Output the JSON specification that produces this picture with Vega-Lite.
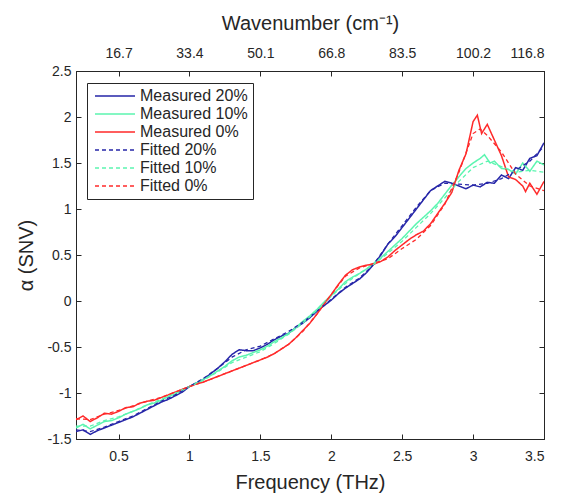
{
"$schema":"https://vega.github.io/schema/vega-lite/v6.json",
"width":468,"height":368,
"autosize":{"type":"none"},
"padding":{"left":76,"top":71,"right":21,"bottom":60},
"background":"white",
"config":{"font":"Liberation Sans","view":{"stroke":"#262626","strokeWidth":1},
 "axis":{"grid":false,"domainColor":"#262626","tickColor":"#262626","labelColor":"#262626","titleColor":"#262626","labelFontSize":14,"titleFontSize":20,"titleFontWeight":"normal","tickSize":-5,"tickWidth":1}},
"datasets":{
"m":[
{"s":"Measured 20%","x":0.20,"y":-1.42},{"s":"Measured 20%","x":0.25,"y":-1.40},{"s":"Measured 20%","x":0.30,"y":-1.45},{"s":"Measured 20%","x":0.35,"y":-1.41},{"s":"Measured 20%","x":0.40,"y":-1.38},{"s":"Measured 20%","x":0.45,"y":-1.35},{"s":"Measured 20%","x":0.50,"y":-1.32},{"s":"Measured 20%","x":0.55,"y":-1.29},{"s":"Measured 20%","x":0.60,"y":-1.26},{"s":"Measured 20%","x":0.65,"y":-1.22},{"s":"Measured 20%","x":0.70,"y":-1.18},{"s":"Measured 20%","x":0.75,"y":-1.14},{"s":"Measured 20%","x":0.80,"y":-1.10},{"s":"Measured 20%","x":0.85,"y":-1.07},{"s":"Measured 20%","x":0.90,"y":-1.03},{"s":"Measured 20%","x":0.95,"y":-0.99},{"s":"Measured 20%","x":1.00,"y":-0.93},{"s":"Measured 20%","x":1.05,"y":-0.89},{"s":"Measured 20%","x":1.10,"y":-0.85},{"s":"Measured 20%","x":1.15,"y":-0.79},{"s":"Measured 20%","x":1.20,"y":-0.73},{"s":"Measured 20%","x":1.25,"y":-0.66},{"s":"Measured 20%","x":1.30,"y":-0.58},{"s":"Measured 20%","x":1.35,"y":-0.53},{"s":"Measured 20%","x":1.40,"y":-0.54},{"s":"Measured 20%","x":1.45,"y":-0.54},{"s":"Measured 20%","x":1.50,"y":-0.51},{"s":"Measured 20%","x":1.55,"y":-0.47},{"s":"Measured 20%","x":1.60,"y":-0.42},{"s":"Measured 20%","x":1.65,"y":-0.38},{"s":"Measured 20%","x":1.70,"y":-0.35},{"s":"Measured 20%","x":1.75,"y":-0.29},{"s":"Measured 20%","x":1.80,"y":-0.24},{"s":"Measured 20%","x":1.85,"y":-0.18},{"s":"Measured 20%","x":1.90,"y":-0.11},{"s":"Measured 20%","x":1.95,"y":-0.05},{"s":"Measured 20%","x":2.00,"y":0.01},{"s":"Measured 20%","x":2.05,"y":0.08},{"s":"Measured 20%","x":2.10,"y":0.14},{"s":"Measured 20%","x":2.15,"y":0.19},{"s":"Measured 20%","x":2.20,"y":0.24},{"s":"Measured 20%","x":2.25,"y":0.31},{"s":"Measured 20%","x":2.30,"y":0.40},{"s":"Measured 20%","x":2.35,"y":0.50},{"s":"Measured 20%","x":2.40,"y":0.62},{"s":"Measured 20%","x":2.45,"y":0.70},{"s":"Measured 20%","x":2.50,"y":0.80},{"s":"Measured 20%","x":2.55,"y":0.90},{"s":"Measured 20%","x":2.60,"y":1.00},{"s":"Measured 20%","x":2.65,"y":1.10},{"s":"Measured 20%","x":2.70,"y":1.20},{"s":"Measured 20%","x":2.75,"y":1.25},{"s":"Measured 20%","x":2.80,"y":1.30},{"s":"Measured 20%","x":2.85,"y":1.28},{"s":"Measured 20%","x":2.90,"y":1.25},{"s":"Measured 20%","x":2.95,"y":1.22},{"s":"Measured 20%","x":3.00,"y":1.26},{"s":"Measured 20%","x":3.05,"y":1.24},{"s":"Measured 20%","x":3.10,"y":1.29},{"s":"Measured 20%","x":3.15,"y":1.28},{"s":"Measured 20%","x":3.20,"y":1.37},{"s":"Measured 20%","x":3.25,"y":1.33},{"s":"Measured 20%","x":3.30,"y":1.45},{"s":"Measured 20%","x":3.35,"y":1.42},{"s":"Measured 20%","x":3.40,"y":1.55},{"s":"Measured 20%","x":3.45,"y":1.58},{"s":"Measured 20%","x":3.50,"y":1.72},
{"s":"Measured 10%","x":0.20,"y":-1.38},{"s":"Measured 10%","x":0.25,"y":-1.34},{"s":"Measured 10%","x":0.30,"y":-1.39},{"s":"Measured 10%","x":0.35,"y":-1.35},{"s":"Measured 10%","x":0.40,"y":-1.31},{"s":"Measured 10%","x":0.45,"y":-1.30},{"s":"Measured 10%","x":0.50,"y":-1.27},{"s":"Measured 10%","x":0.55,"y":-1.23},{"s":"Measured 10%","x":0.60,"y":-1.20},{"s":"Measured 10%","x":0.65,"y":-1.17},{"s":"Measured 10%","x":0.70,"y":-1.13},{"s":"Measured 10%","x":0.75,"y":-1.11},{"s":"Measured 10%","x":0.80,"y":-1.08},{"s":"Measured 10%","x":0.85,"y":-1.04},{"s":"Measured 10%","x":0.90,"y":-1.01},{"s":"Measured 10%","x":0.95,"y":-0.97},{"s":"Measured 10%","x":1.00,"y":-0.93},{"s":"Measured 10%","x":1.05,"y":-0.89},{"s":"Measured 10%","x":1.10,"y":-0.85},{"s":"Measured 10%","x":1.15,"y":-0.81},{"s":"Measured 10%","x":1.20,"y":-0.76},{"s":"Measured 10%","x":1.25,"y":-0.71},{"s":"Measured 10%","x":1.30,"y":-0.65},{"s":"Measured 10%","x":1.35,"y":-0.61},{"s":"Measured 10%","x":1.40,"y":-0.59},{"s":"Measured 10%","x":1.45,"y":-0.56},{"s":"Measured 10%","x":1.50,"y":-0.53},{"s":"Measured 10%","x":1.55,"y":-0.49},{"s":"Measured 10%","x":1.60,"y":-0.44},{"s":"Measured 10%","x":1.65,"y":-0.40},{"s":"Measured 10%","x":1.70,"y":-0.35},{"s":"Measured 10%","x":1.75,"y":-0.29},{"s":"Measured 10%","x":1.80,"y":-0.22},{"s":"Measured 10%","x":1.85,"y":-0.16},{"s":"Measured 10%","x":1.90,"y":-0.09},{"s":"Measured 10%","x":1.95,"y":-0.01},{"s":"Measured 10%","x":2.00,"y":0.06},{"s":"Measured 10%","x":2.05,"y":0.13},{"s":"Measured 10%","x":2.10,"y":0.21},{"s":"Measured 10%","x":2.15,"y":0.26},{"s":"Measured 10%","x":2.20,"y":0.30},{"s":"Measured 10%","x":2.25,"y":0.35},{"s":"Measured 10%","x":2.30,"y":0.41},{"s":"Measured 10%","x":2.35,"y":0.47},{"s":"Measured 10%","x":2.40,"y":0.54},{"s":"Measured 10%","x":2.45,"y":0.61},{"s":"Measured 10%","x":2.50,"y":0.68},{"s":"Measured 10%","x":2.55,"y":0.76},{"s":"Measured 10%","x":2.60,"y":0.84},{"s":"Measured 10%","x":2.65,"y":0.91},{"s":"Measured 10%","x":2.70,"y":0.98},{"s":"Measured 10%","x":2.75,"y":1.06},{"s":"Measured 10%","x":2.80,"y":1.16},{"s":"Measured 10%","x":2.85,"y":1.26},{"s":"Measured 10%","x":2.90,"y":1.35},{"s":"Measured 10%","x":2.95,"y":1.44},{"s":"Measured 10%","x":3.00,"y":1.50},{"s":"Measured 10%","x":3.05,"y":1.55},{"s":"Measured 10%","x":3.08,"y":1.59},{"s":"Measured 10%","x":3.12,"y":1.50},{"s":"Measured 10%","x":3.15,"y":1.52},{"s":"Measured 10%","x":3.20,"y":1.44},{"s":"Measured 10%","x":3.25,"y":1.43},{"s":"Measured 10%","x":3.30,"y":1.38},{"s":"Measured 10%","x":3.35,"y":1.50},{"s":"Measured 10%","x":3.40,"y":1.41},{"s":"Measured 10%","x":3.45,"y":1.52},{"s":"Measured 10%","x":3.50,"y":1.48},
{"s":"Measured 0%","x":0.20,"y":-1.29},{"s":"Measured 0%","x":0.25,"y":-1.25},{"s":"Measured 0%","x":0.30,"y":-1.31},{"s":"Measured 0%","x":0.35,"y":-1.27},{"s":"Measured 0%","x":0.40,"y":-1.22},{"s":"Measured 0%","x":0.45,"y":-1.23},{"s":"Measured 0%","x":0.50,"y":-1.20},{"s":"Measured 0%","x":0.55,"y":-1.16},{"s":"Measured 0%","x":0.60,"y":-1.15},{"s":"Measured 0%","x":0.65,"y":-1.11},{"s":"Measured 0%","x":0.70,"y":-1.09},{"s":"Measured 0%","x":0.75,"y":-1.08},{"s":"Measured 0%","x":0.80,"y":-1.05},{"s":"Measured 0%","x":0.85,"y":-1.02},{"s":"Measured 0%","x":0.90,"y":-0.99},{"s":"Measured 0%","x":0.95,"y":-0.96},{"s":"Measured 0%","x":1.00,"y":-0.93},{"s":"Measured 0%","x":1.05,"y":-0.90},{"s":"Measured 0%","x":1.10,"y":-0.88},{"s":"Measured 0%","x":1.15,"y":-0.85},{"s":"Measured 0%","x":1.20,"y":-0.82},{"s":"Measured 0%","x":1.25,"y":-0.79},{"s":"Measured 0%","x":1.30,"y":-0.76},{"s":"Measured 0%","x":1.35,"y":-0.73},{"s":"Measured 0%","x":1.40,"y":-0.70},{"s":"Measured 0%","x":1.45,"y":-0.67},{"s":"Measured 0%","x":1.50,"y":-0.64},{"s":"Measured 0%","x":1.55,"y":-0.61},{"s":"Measured 0%","x":1.60,"y":-0.57},{"s":"Measured 0%","x":1.65,"y":-0.52},{"s":"Measured 0%","x":1.70,"y":-0.47},{"s":"Measured 0%","x":1.75,"y":-0.40},{"s":"Measured 0%","x":1.80,"y":-0.32},{"s":"Measured 0%","x":1.85,"y":-0.24},{"s":"Measured 0%","x":1.90,"y":-0.14},{"s":"Measured 0%","x":1.95,"y":-0.03},{"s":"Measured 0%","x":2.00,"y":0.07},{"s":"Measured 0%","x":2.05,"y":0.18},{"s":"Measured 0%","x":2.10,"y":0.28},{"s":"Measured 0%","x":2.15,"y":0.34},{"s":"Measured 0%","x":2.20,"y":0.37},{"s":"Measured 0%","x":2.25,"y":0.39},{"s":"Measured 0%","x":2.30,"y":0.40},{"s":"Measured 0%","x":2.35,"y":0.43},{"s":"Measured 0%","x":2.40,"y":0.48},{"s":"Measured 0%","x":2.45,"y":0.55},{"s":"Measured 0%","x":2.50,"y":0.61},{"s":"Measured 0%","x":2.55,"y":0.67},{"s":"Measured 0%","x":2.60,"y":0.72},{"s":"Measured 0%","x":2.65,"y":0.76},{"s":"Measured 0%","x":2.70,"y":0.84},{"s":"Measured 0%","x":2.75,"y":0.95},{"s":"Measured 0%","x":2.80,"y":1.06},{"s":"Measured 0%","x":2.85,"y":1.18},{"s":"Measured 0%","x":2.90,"y":1.42},{"s":"Measured 0%","x":2.95,"y":1.60},{"s":"Measured 0%","x":3.00,"y":1.95},{"s":"Measured 0%","x":3.03,"y":2.02},{"s":"Measured 0%","x":3.06,"y":1.82},{"s":"Measured 0%","x":3.10,"y":1.92},{"s":"Measured 0%","x":3.15,"y":1.75},{"s":"Measured 0%","x":3.20,"y":1.58},{"s":"Measured 0%","x":3.25,"y":1.35},{"s":"Measured 0%","x":3.30,"y":1.32},{"s":"Measured 0%","x":3.35,"y":1.25},{"s":"Measured 0%","x":3.37,"y":1.19},{"s":"Measured 0%","x":3.40,"y":1.28},{"s":"Measured 0%","x":3.45,"y":1.16},{"s":"Measured 0%","x":3.50,"y":1.30}
],
"f":[
{"s":"Fitted 20%","x":0.2,"y":-1.40},{"s":"Fitted 20%","x":0.3,"y":-1.42},{"s":"Fitted 20%","x":0.4,"y":-1.37},{"s":"Fitted 20%","x":0.5,"y":-1.31},{"s":"Fitted 20%","x":0.6,"y":-1.25},{"s":"Fitted 20%","x":0.7,"y":-1.17},{"s":"Fitted 20%","x":0.8,"y":-1.09},{"s":"Fitted 20%","x":0.9,"y":-1.02},{"s":"Fitted 20%","x":1.0,"y":-0.93},{"s":"Fitted 20%","x":1.1,"y":-0.84},{"s":"Fitted 20%","x":1.2,"y":-0.73},{"s":"Fitted 20%","x":1.3,"y":-0.61},{"s":"Fitted 20%","x":1.4,"y":-0.53},{"s":"Fitted 20%","x":1.5,"y":-0.49},{"s":"Fitted 20%","x":1.6,"y":-0.41},{"s":"Fitted 20%","x":1.7,"y":-0.33},{"s":"Fitted 20%","x":1.8,"y":-0.23},{"s":"Fitted 20%","x":1.9,"y":-0.11},{"s":"Fitted 20%","x":2.0,"y":0.02},{"s":"Fitted 20%","x":2.1,"y":0.15},{"s":"Fitted 20%","x":2.2,"y":0.25},{"s":"Fitted 20%","x":2.3,"y":0.40},{"s":"Fitted 20%","x":2.4,"y":0.62},{"s":"Fitted 20%","x":2.5,"y":0.82},{"s":"Fitted 20%","x":2.6,"y":1.02},{"s":"Fitted 20%","x":2.7,"y":1.20},{"s":"Fitted 20%","x":2.8,"y":1.28},{"s":"Fitted 20%","x":2.9,"y":1.27},{"s":"Fitted 20%","x":3.0,"y":1.26},{"s":"Fitted 20%","x":3.1,"y":1.28},{"s":"Fitted 20%","x":3.2,"y":1.33},{"s":"Fitted 20%","x":3.3,"y":1.42},{"s":"Fitted 20%","x":3.4,"y":1.52},{"s":"Fitted 20%","x":3.5,"y":1.68},
{"s":"Fitted 10%","x":0.2,"y":-1.36},{"s":"Fitted 10%","x":0.3,"y":-1.36},{"s":"Fitted 10%","x":0.4,"y":-1.30},{"s":"Fitted 10%","x":0.5,"y":-1.26},{"s":"Fitted 10%","x":0.6,"y":-1.20},{"s":"Fitted 10%","x":0.7,"y":-1.13},{"s":"Fitted 10%","x":0.8,"y":-1.07},{"s":"Fitted 10%","x":0.9,"y":-1.00},{"s":"Fitted 10%","x":1.0,"y":-0.93},{"s":"Fitted 10%","x":1.1,"y":-0.86},{"s":"Fitted 10%","x":1.2,"y":-0.77},{"s":"Fitted 10%","x":1.3,"y":-0.67},{"s":"Fitted 10%","x":1.4,"y":-0.61},{"s":"Fitted 10%","x":1.5,"y":-0.55},{"s":"Fitted 10%","x":1.6,"y":-0.46},{"s":"Fitted 10%","x":1.7,"y":-0.36},{"s":"Fitted 10%","x":1.8,"y":-0.24},{"s":"Fitted 10%","x":1.9,"y":-0.10},{"s":"Fitted 10%","x":2.0,"y":0.05},{"s":"Fitted 10%","x":2.1,"y":0.19},{"s":"Fitted 10%","x":2.2,"y":0.30},{"s":"Fitted 10%","x":2.3,"y":0.40},{"s":"Fitted 10%","x":2.4,"y":0.52},{"s":"Fitted 10%","x":2.5,"y":0.65},{"s":"Fitted 10%","x":2.6,"y":0.80},{"s":"Fitted 10%","x":2.7,"y":0.95},{"s":"Fitted 10%","x":2.8,"y":1.12},{"s":"Fitted 10%","x":2.9,"y":1.30},{"s":"Fitted 10%","x":3.0,"y":1.45},{"s":"Fitted 10%","x":3.1,"y":1.52},{"s":"Fitted 10%","x":3.2,"y":1.46},{"s":"Fitted 10%","x":3.3,"y":1.40},{"s":"Fitted 10%","x":3.4,"y":1.42},{"s":"Fitted 10%","x":3.5,"y":1.40},
{"s":"Fitted 0%","x":0.2,"y":-1.28},{"s":"Fitted 0%","x":0.3,"y":-1.29},{"s":"Fitted 0%","x":0.4,"y":-1.23},{"s":"Fitted 0%","x":0.5,"y":-1.19},{"s":"Fitted 0%","x":0.6,"y":-1.14},{"s":"Fitted 0%","x":0.7,"y":-1.09},{"s":"Fitted 0%","x":0.8,"y":-1.05},{"s":"Fitted 0%","x":0.9,"y":-0.99},{"s":"Fitted 0%","x":1.0,"y":-0.93},{"s":"Fitted 0%","x":1.1,"y":-0.88},{"s":"Fitted 0%","x":1.2,"y":-0.82},{"s":"Fitted 0%","x":1.3,"y":-0.76},{"s":"Fitted 0%","x":1.4,"y":-0.70},{"s":"Fitted 0%","x":1.5,"y":-0.64},{"s":"Fitted 0%","x":1.6,"y":-0.57},{"s":"Fitted 0%","x":1.7,"y":-0.47},{"s":"Fitted 0%","x":1.8,"y":-0.33},{"s":"Fitted 0%","x":1.9,"y":-0.14},{"s":"Fitted 0%","x":2.0,"y":0.07},{"s":"Fitted 0%","x":2.1,"y":0.27},{"s":"Fitted 0%","x":2.2,"y":0.36},{"s":"Fitted 0%","x":2.3,"y":0.41},{"s":"Fitted 0%","x":2.4,"y":0.46},{"s":"Fitted 0%","x":2.5,"y":0.57},{"s":"Fitted 0%","x":2.6,"y":0.67},{"s":"Fitted 0%","x":2.7,"y":0.82},{"s":"Fitted 0%","x":2.8,"y":1.05},{"s":"Fitted 0%","x":2.9,"y":1.40},{"s":"Fitted 0%","x":3.0,"y":1.82},{"s":"Fitted 0%","x":3.05,"y":1.87},{"s":"Fitted 0%","x":3.1,"y":1.80},{"s":"Fitted 0%","x":3.2,"y":1.62},{"s":"Fitted 0%","x":3.3,"y":1.38},{"s":"Fitted 0%","x":3.4,"y":1.25},{"s":"Fitted 0%","x":3.5,"y":1.20}
]},
"layer":[
{"data":{"name":"m"},
 "mark":{"type":"line","strokeWidth":1.5,"clip":true},
 "encoding":{
  "x":{"field":"x","type":"quantitative","scale":{"domain":[0.2,3.5],"nice":false,"zero":false},
   "axis":{"orient":"bottom","values":[0.5,1,1.5,2,2.5,3,3.5],"labelExpr":"''+datum.value","title":"Frequency (THz)","titlePadding":9,"labelPadding":15}},
  "y":{"field":"y","type":"quantitative","scale":{"domain":[-1.5,2.5],"nice":false,"zero":false},
   "axis":{"orient":"left","values":[-1.5,-1,-0.5,0,0.5,1,1.5,2,2.5],"labelExpr":"''+datum.value","title":"α (SNV)","titlePadding":10,"labelPadding":10}},
  "color":{"field":"s","type":"nominal","scale":{"domain":["Measured 20%","Measured 10%","Measured 0%","Fitted 20%","Fitted 10%","Fitted 0%"],"range":["#2626a8","#5cf5b0","#ff2a2a","#2626a8","#5cf5b0","#ff2a2a"]},
   "legend":{"orient":"none","legendX":11,"legendY":12,"title":null,"symbolType":"M-1,0H7","symbolSize":100,"symbolStrokeWidth":1.5,"labelFontSize":16,"labelColor":"#262626","strokeColor":"#262626","fillColor":"white","padding":5,"rowPadding":2,"labelOffset":32,"labelLimit":300}},
  "strokeDash":{"field":"s","type":"nominal","scale":{"domain":["Measured 20%","Measured 10%","Measured 0%","Fitted 20%","Fitted 10%","Fitted 0%"],"range":[[1,0],[1,0],[1,0],[4,3],[4,3],[4,3]]}}
 }},
{"data":{"name":"f"},
 "mark":{"type":"line","strokeWidth":1.3,"clip":true},
 "encoding":{
  "x":{"field":"x","type":"quantitative",
   "axis":{"orient":"top","values":[0.5,1,1.5,2,2.5,3,3.5],"labelExpr":"datum.value==0.5?'16.7':datum.value==1?'33.4':datum.value==1.5?'50.1':datum.value==2?'66.8':datum.value==2.5?'83.5':datum.value==3?'100.2':'116.8'","title":"Wavenumber (cm⁻¹)","titlePadding":13,"labelPadding":16}},
  "y":{"field":"y","type":"quantitative",
   "axis":{"orient":"right","values":[-1.5,-1,-0.5,0,0.5,1,1.5,2,2.5],"labels":false,"title":null}},
  "color":{"field":"s","type":"nominal"},
  "strokeDash":{"field":"s","type":"nominal"}
 }}
],
"resolve":{"axis":{"x":"independent","y":"independent"}}
}
